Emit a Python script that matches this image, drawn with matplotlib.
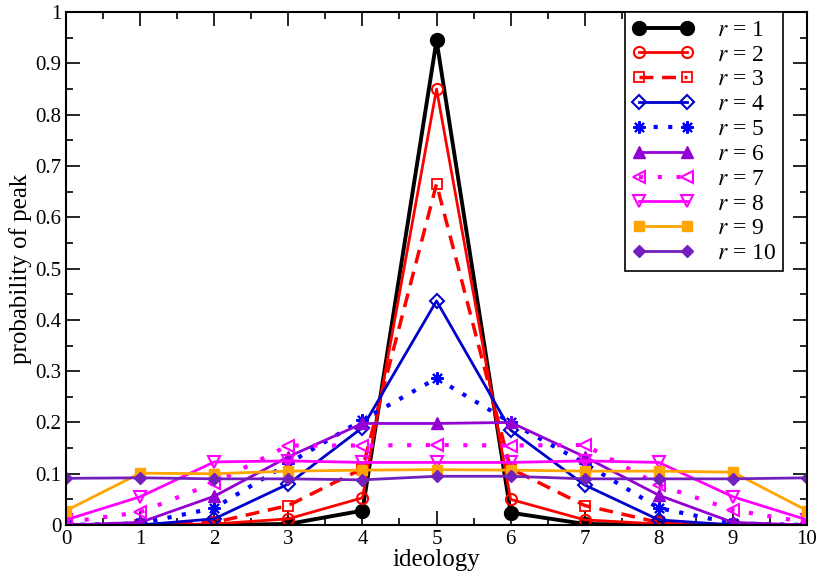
import matplotlib
matplotlib.use('Agg')
import matplotlib.pyplot as plt
from matplotlib.ticker import MultipleLocator

plt.rcParams['font.family'] = ['Liberation Serif', 'DejaVu Serif']
plt.rcParams['mathtext.fontset'] = 'stix'

#-------------Data-------------

ideology = [0, 1, 2, 3, 4, 5, 6, 7, 8, 9, 10]

r1 = [0.0, 0.0, 0.0, 0.002, 0.028, 0.945, 0.024, 0.002, 0.0, 0.0, 0.0]
r2 = [0.0, 0.0, 0.002, 0.012, 0.053, 0.85, 0.05, 0.01, 0.002, 0.0, 0.0]
r3 = [0.0, 0.0, 0.005, 0.038, 0.11, 0.665, 0.11, 0.038, 0.005, 0.0, 0.0]
r4 = [0.0, 0.0, 0.012, 0.08, 0.19, 0.437, 0.185, 0.078, 0.01, 0.0, 0.0]
r5 = [0.0, 0.003, 0.033, 0.12, 0.205, 0.286, 0.2, 0.12, 0.033, 0.003, 0.0]
r6 = [0.0, 0.005, 0.056, 0.133, 0.198, 0.198, 0.2, 0.133, 0.058, 0.005, 0.0]
r7 = [0.005, 0.025, 0.082, 0.155, 0.155, 0.156, 0.155, 0.156, 0.078, 0.029, 0.005]
r8 = [0.01, 0.055, 0.123, 0.125, 0.122, 0.122, 0.122, 0.125, 0.122, 0.055, 0.01]
r9 = [0.028, 0.101, 0.1, 0.105, 0.107, 0.108, 0.107, 0.105, 0.105, 0.103, 0.028]
r10 = [0.091, 0.092, 0.09, 0.09, 0.088, 0.095, 0.095, 0.09, 0.09, 0.09, 0.092]

labels = ['$r$ = %d' % i for i in range(1, 11)]

#-------------Plot-------------

fig = plt.figure(figsize=(8.18, 5.81), dpi=100)
ax = fig.add_axes([0.0807, 0.0964, 0.9059, 0.8826])

violet = '#9400d3'
indigo = '#7221bc'

ax.plot(ideology, r1, color='black', lw=2.8, marker='o', ms=10, label=labels[0])
ax.plot(ideology, r2, color='#ff0000', lw=2, marker='o', ms=8, mfc='none', mew=1.5, label=labels[1])
ax.plot(ideology, r3, color='#ff0000', lw=2.5, ls=(0, (4, 2.5)), marker='s', ms=7, mfc='none', mew=1.3, label=labels[2])
ax.plot(ideology, r4, color='#0000cc', lw=2, marker='D', ms=7, mfc='none', mew=1.5, label=labels[3])
ax.plot(ideology, r5, color='#0000ff', lw=3, ls=(0, (1, 2.5)), marker=(8, 2, 0), ms=9, mew=1.5, label=labels[4])
ax.plot(ideology, r6, color=violet, lw=2, marker='^', ms=8, label=labels[5])
ax.plot(ideology, r7, color='#ff00ff', lw=3, ls=(0, (1, 3.5)), marker='<', ms=9, mfc='none', mew=1.5, label=labels[6])
ax.plot(ideology, r8, color='#ff00ff', lw=2, marker='v', ms=8, mfc='none', mew=1.5, label=labels[7])
ax.plot(ideology, r9, color='#ffa500', lw=2, marker='s', ms=7, label=labels[8])
ax.plot(ideology, r10, color=indigo, lw=2, marker='D', ms=6, label=labels[9])

ax.set_xlim(0, 10)
ax.set_ylim(0, 1)
ax.xaxis.set_major_locator(MultipleLocator(1))
ax.xaxis.set_minor_locator(MultipleLocator(0.5))
ax.yaxis.set_major_locator(MultipleLocator(0.1))
ax.yaxis.set_minor_locator(MultipleLocator(0.05))
ax.set_yticks([i / 10 for i in range(11)])
ax.set_yticklabels(['0'] + ['0.%d' % i for i in range(1, 10)] + ['1'])

ax.tick_params(which='both', direction='in', top=True, right=True, labelsize=15, width=1.2)
ax.tick_params(which='major', length=10)
ax.tick_params(which='minor', length=5)
for s in ax.spines.values():
    s.set_linewidth(1.5)

ax.set_xlabel('ideology', fontsize=18, labelpad=0)
ax.set_ylabel('probability of peak', fontsize=18, labelpad=2)

leg = ax.legend(loc='upper right', bbox_to_anchor=(0.968, 1.0), borderaxespad=0,
                numpoints=2, handlelength=2.6, handletextpad=1.0, fontsize=17,
                fancybox=False, edgecolor='black', framealpha=1,
                labelspacing=0.14, borderpad=0.3)
leg.get_frame().set_linewidth(1.2)

fig.savefig('out.png', dpi=100)
